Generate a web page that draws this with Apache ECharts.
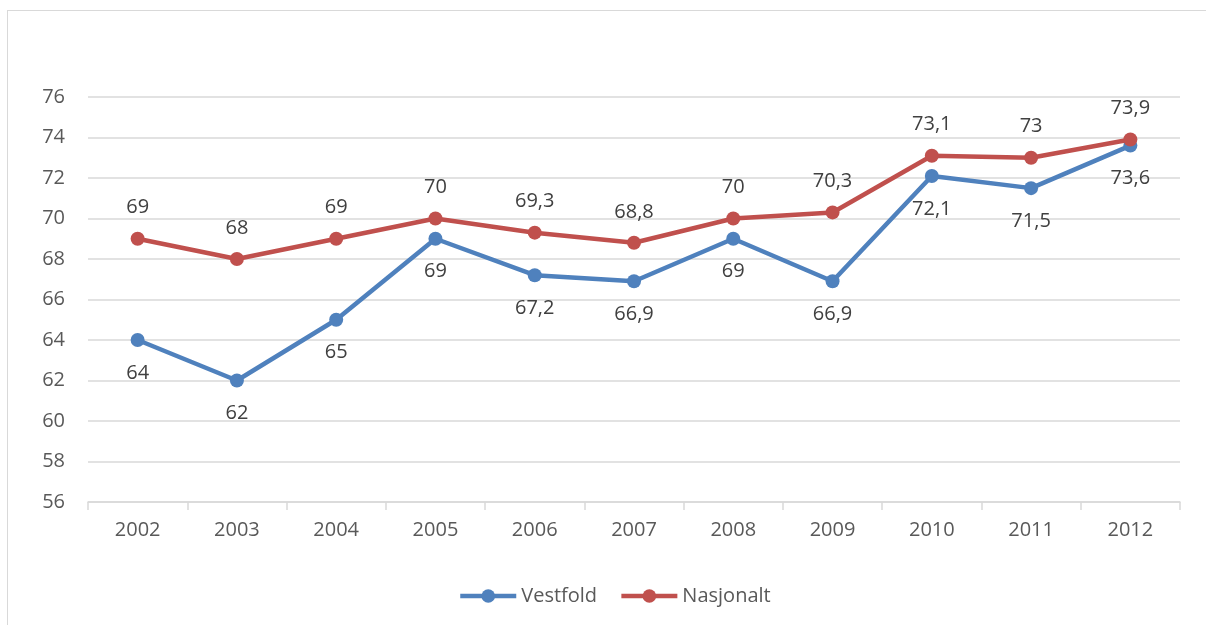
<!DOCTYPE html>
<html>
<head>
<meta charset="utf-8">
<script src="https://cdn.jsdelivr.net/npm/echarts@6/dist/echarts.min.js"></script>
<style>
html,body{margin:0;padding:0;background:#fff;}
#frame{position:absolute;left:7px;top:10px;width:1210px;height:640px;border:1px solid #d9d9d9;box-sizing:border-box;}
#chart{position:absolute;left:0;top:0;width:1206px;height:625px;}
</style>
</head>
<body>
<div id="frame"></div>
<div id="chart"></div>
<script>
const years = ['2002','2003','2004','2005','2006','2007','2008','2009','2010','2011','2012'];
const vestfold = [64, 62, 65, 69, 67.2, 66.9, 69, 66.9, 72.1, 71.5, 73.6];
const nasjonalt = [69, 68, 69, 70, 69.3, 68.8, 70, 70.3, 73.1, 73, 73.9];
const yTicks = {min: 56, max: 76, interval: 2};

const font = "'Open Sans', 'Liberation Sans', sans-serif";
const fmt = p => String(p.value).replace('.', ',');
const chart = echarts.init(document.getElementById('chart'), null, {renderer: 'canvas'});
chart.setOption({
  animation: false,
  textStyle: {fontFamily: font},
  grid: {left: 88, right: 26, top: 97, bottom: 123},
  legend: {
    bottom: 14, left: 453, itemWidth: 56, itemHeight: 17, itemGap: 22,
    lineStyle: {width: 4.5},
    textStyle: {fontSize: 20, color: '#595959', fontFamily: font},
    data: ['Vestfold', 'Nasjonalt']
  },
  xAxis: {
    type: 'category', data: years, boundaryGap: true,
    axisLine: {lineStyle: {color: '#d9d9d9', width: 1.5}},
    axisTick: {show: true, length: 8, lineStyle: {color: '#d9d9d9', width: 1.5}},
    axisLabel: {fontSize: 20, color: '#595959', margin: 18, fontFamily: font}
  },
  yAxis: {
    type: 'value', min: yTicks.min, max: yTicks.max, interval: yTicks.interval,
    axisLine: {show: false}, axisTick: {show: false},
    axisLabel: {fontSize: 20, color: '#595959', margin: 23, fontFamily: font},
    splitLine: {lineStyle: {color: '#d9d9d9', width: 1.5}}
  },
  series: [
    {
      name: 'Vestfold', type: 'line', data: vestfold,
      symbol: 'circle', symbolSize: 14,
      itemStyle: {color: '#4f81bd'},
      lineStyle: {width: 4.5, color: '#4f81bd'},
      label: {show: true, position: 'bottom', distance: 16, fontSize: 20, color: '#404040', formatter: fmt, fontFamily: font},
      z: 2
    },
    {
      name: 'Nasjonalt', type: 'line', data: nasjonalt,
      symbol: 'circle', symbolSize: 14,
      itemStyle: {color: '#c0504d'},
      lineStyle: {width: 4.5, color: '#c0504d'},
      label: {show: true, position: 'top', distance: 14, fontSize: 20, color: '#404040', formatter: fmt, fontFamily: font},
      z: 3
    }
  ]
});
</script>
</body>
</html>
